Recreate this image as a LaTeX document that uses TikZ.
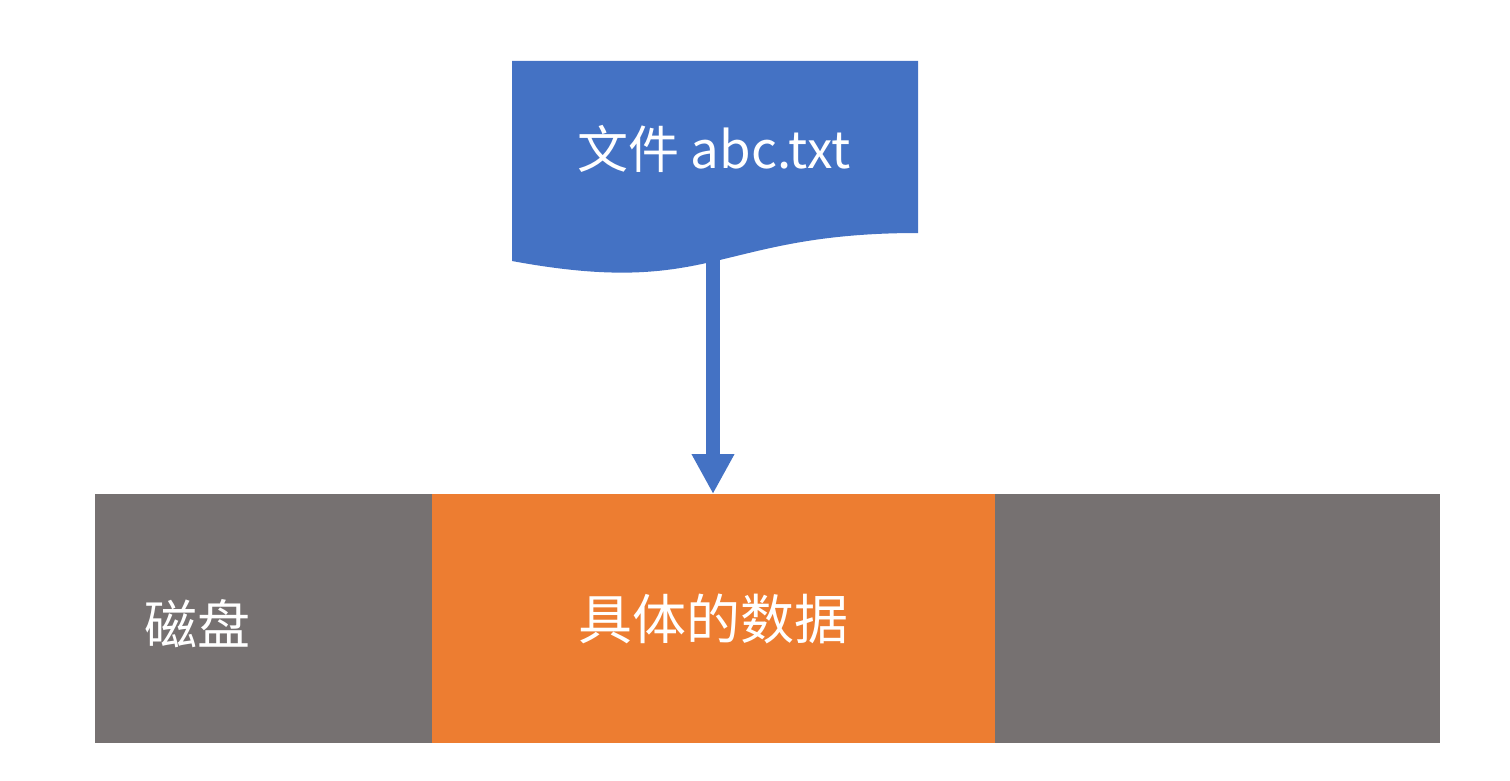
\documentclass[tikz,border=0pt]{standalone}
\usepackage{fontspec}
\setmainfont{Noto Sans CJK SC}
\usetikzlibrary{arrows.meta}
\definecolor{docblue}{HTML}{4472C4}
\definecolor{dataorange}{HTML}{ED7D31}
\definecolor{diskgray}{HTML}{767171}
\begin{document}
\begin{tikzpicture}[x=1pt,y=-1pt,
  barpart/.style={draw=none,inner sep=0pt,anchor=north west,minimum height=249pt},
  lbl/.style={text=white,inner sep=0pt,font=\fontsize{53}{64}\selectfont}]
\useasboundingbox (0,0) rectangle (1510,781);
% document shape
\fill[docblue] (512,61) -- (918,61) -- (918,233)
  .. controls (715,233) and (715,298.6) .. (512,261) -- cycle;
\node[lbl,font=\fontsize{51}{60}\selectfont] (doc) at (714,149) {文件 abc.txt};
\coordinate (docbottom) at (713,255);
% bar
\node[barpart,fill=diskgray,minimum width=337pt] (disk) at (95,494) {};
\node[barpart,fill=dataorange,minimum width=563pt] (data) at (432,494) {};
\node[barpart,fill=diskgray,minimum width=445pt] (rest) at (995,494) {};
\node[lbl] (disklabel) at (197,624) {磁盘};
\node[lbl,font=\fontsize{54}{64}\selectfont] (datalabel) at (data.center) {具体的数据};
% arrow
\draw[docblue,line width=14pt,-{Triangle[width=40pt,length=40pt]}] (docbottom) -- (data.north -| docbottom);
\end{tikzpicture}
\end{document}
